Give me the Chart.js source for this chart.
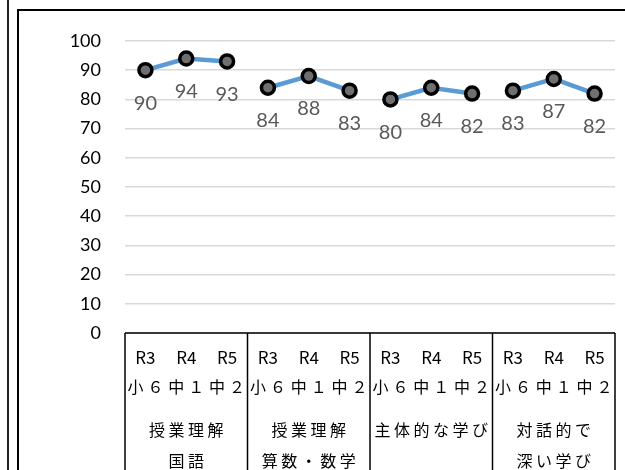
<!DOCTYPE html>
<html>
<head>
<meta charset="utf-8">
<script src="https://cdn.jsdelivr.net/npm/chart.js@4"></script>
<style>
  body { margin: 0; background: #fff; overflow: hidden; }
  #wrap { position: relative; width: 625px; height: 470px; }
  #leftLine { position: absolute; left: 7px; top: 0; width: 2px; height: 470px; background: #222; }
  #frame { position: absolute; left: 17px; top: 9px; width: 700px; height: 600px; border: 2px solid #000; }
  canvas { position: absolute; left: 0; top: 0; }
</style>
</head>
<body>
<div id="wrap">
  <div id="leftLine"></div>
  <div id="frame"></div>
  <canvas id="myChart" width="625" height="470"></canvas>
</div>
<script>
// Data
var years = ['R3', 'R4', 'R5'];
var grades = ['小６', '中１', '中２'];
var groupNames = [['授業理解', '国語'], ['授業理解', '算数・数学'], ['主体的な学び'], ['対話的で', '深い学び']];
var kokugo = [90, 94, 93];
var sansu = [84, 88, 83];
var shutai = [80, 84, 82];
var taiwa = [83, 87, 82];
var yTicks = [0, 10, 20, 30, 40, 50, 60, 70, 80, 90, 100];

var groupValues = [kokugo, sansu, shutai, taiwa];

// one label per point, 12 in all
var labels = [];
groupValues.forEach(function(g, gi) {
  years.forEach(function(y, i) { labels.push(gi + '-' + y); });
});

// one dataset per group so the line breaks between groups
var datasets = groupValues.map(function(g, gi) {
  var d = labels.map(function() { return null; });
  g.forEach(function(v, i) { d[gi * 3 + i] = v; });
  return {
    data: d,
    borderColor: '#5b9bd5',
    borderWidth: 4.5,
    pointRadius: 6.5,
    pointHoverRadius: 6.5,
    pointBackgroundColor: '#6f6f6f',
    pointBorderColor: '#000',
    pointBorderWidth: 3.5,
    spanGaps: false,
    tension: 0
  };
});

var dataLabels = {
  id: 'dataLabels',
  afterDatasetsDraw: function(chart) {
    var ctx = chart.ctx;
    ctx.save();
    ctx.font = '20px Lato';
    ctx.fillStyle = '#595959';
    ctx.textAlign = 'center';
    ctx.textBaseline = 'middle';
    chart.data.datasets.forEach(function(ds, di) {
      var meta = chart.getDatasetMeta(di);
      meta.data.forEach(function(pt, i) {
        if (ds.data[i] == null) return;
        ctx.fillText(String(ds.data[i]), pt.x, pt.y + 33);
      });
    });
    ctx.restore();
  }
};

// multi-level category axis with boxes
var categoryBoxes = {
  id: 'categoryBoxes',
  afterDraw: function(chart) {
    var ctx = chart.ctx;
    var xs = chart.scales.x;
    var area = chart.chartArea;
    var top = area.bottom;
    var bottom = chart.height + 5;
    ctx.save();
    ctx.strokeStyle = '#000';
    ctx.lineWidth = 1.5;
    ctx.beginPath();
    ctx.moveTo(area.left, top);
    ctx.lineTo(area.right, top);
    for (var g = 0; g <= groupValues.length; g++) {
      var x;
      if (g === 0) x = area.left;
      else if (g === groupValues.length) x = area.right;
      else x = (xs.getPixelForValue(g * 3 - 1) + xs.getPixelForValue(g * 3)) / 2;
      ctx.moveTo(x, top);
      ctx.lineTo(x, bottom);
    }
    ctx.stroke();

    ctx.fillStyle = '#000';
    ctx.textAlign = 'center';
    ctx.textBaseline = 'middle';
    for (var i = 0; i < labels.length; i++) {
      var px = xs.getPixelForValue(i);
      ctx.font = '17px "Noto Sans CJK JP"';
      ctx.letterSpacing = '0px';
      ctx.fillText(years[i % 3], px, top + 25);
      ctx.font = '16px "Noto Sans CJK JP"';
      ctx.letterSpacing = '4px';
      ctx.fillText(grades[i % 3], px + 2, top + 54);
    }
    ctx.font = '16px "Noto Sans CJK JP"';
    ctx.letterSpacing = '3.5px';
    groupNames.forEach(function(lines, gi) {
      var cx = xs.getPixelForValue(gi * 3 + 1);
      lines.forEach(function(t, li) {
        ctx.fillText(t, cx + 1.75, top + 97 + li * 31);
      });
    });
    ctx.restore();
  }
};

var ctx = document.getElementById('myChart').getContext('2d');
var myChart = new Chart(ctx, {
  type: 'line',
  data: { labels: labels, datasets: datasets },
  options: {
    responsive: false,
    animation: false,
    events: [],
    layout: { padding: { left: 0, right: 5, top: 41, bottom: 0 } },
    plugins: { legend: { display: false }, tooltip: { enabled: false } },
    scales: {
      x: {
        offset: true,
        grid: { display: false },
        border: { display: false },
        ticks: { display: false },
        afterFit: function(scale) { scale.height = 137; }
      },
      y: {
        min: 0,
        max: 100,
        afterBuildTicks: function(scale) {
          scale.ticks = yTicks.map(function(v) { return { value: v }; });
        },
        afterFit: function(scale) { scale.width = 125; },
        grid: { color: '#d9d9d9', lineWidth: 1.5, drawTicks: false },
        border: { display: false },
        ticks: {
          padding: 24,
          color: '#000',
          font: { family: 'Lato', size: 18 }
        }
      }
    }
  },
  plugins: [dataLabels, categoryBoxes]
});
</script>
</body>
</html>
